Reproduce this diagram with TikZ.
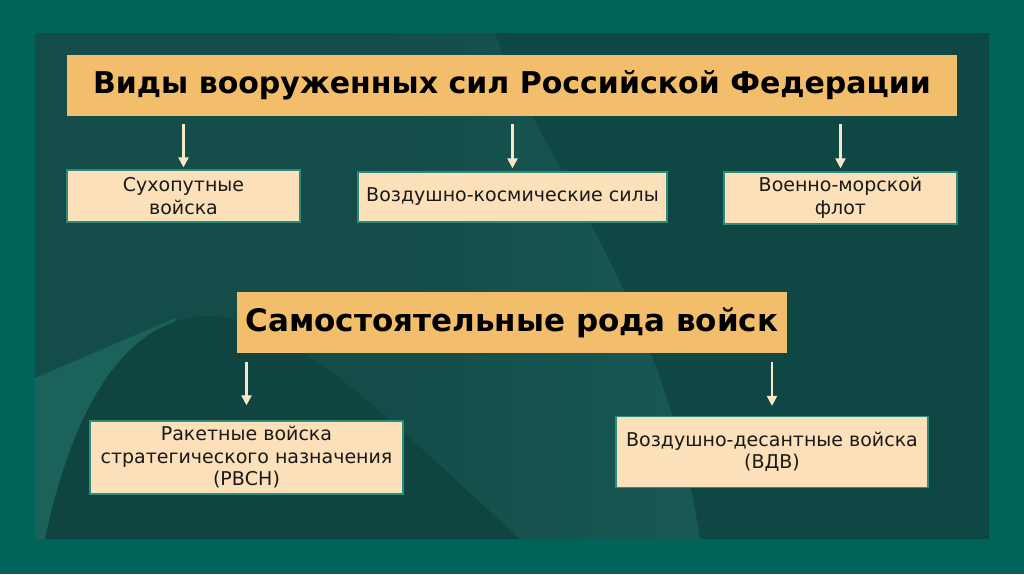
\documentclass[tikz,border=0pt]{standalone}
\usepackage{fontspec}
\setmainfont{DejaVu Sans}
\usetikzlibrary{arrows.meta}
\definecolor{frame}{HTML}{00645A}
\definecolor{inner}{HTML}{144C49}
\definecolor{innerdark}{HTML}{0F4744}
\definecolor{innerlight}{HTML}{185955}
\definecolor{lowlight}{HTML}{1B625B}
\definecolor{hill}{HTML}{0F4441}
\definecolor{titlefill}{HTML}{F2BE6C}
\definecolor{boxfill}{HTML}{FBE0B9}
\definecolor{boxline}{HTML}{2E8B78}
\definecolor{arrowcol}{HTML}{F6E7C9}
\begin{document}
\begin{tikzpicture}[x=1pt,y=-1pt,
  titlebox/.style={fill=titlefill, draw=none, inner sep=0pt, align=center,
    font=\fontsize{31}{36}\selectfont\bfseries, text=black},
  itembox/.style={fill=boxfill, draw=boxline, line width=1.3pt, inner sep=0pt, align=center,
    font=\fontsize{19}{22.5}\selectfont, text=black!90},
  conn/.style={draw=arrowcol, line width=2.2pt, -{Triangle[width=10pt,length=10pt]}}
]
\useasboundingbox (0,0) rectangle (1024,574);
% background
\fill[frame] (0,0) rectangle (1024,574);
\fill[inner] (35,33) rectangle (989,539);
% lighter swoosh band, fading to the left
\begin{scope}
  \clip (380,33) -- (495,33) .. controls (545,170) and (665,300) .. (700,539) -- (380,539) -- cycle;
  \shade[left color=inner, right color=innerlight] (380,33) rectangle (700,539);
\end{scope}
% darker right region
\fill[innerdark] (495,33) .. controls (545,170) and (665,300) .. (700,539) -- (989,539) -- (989,33) -- cycle;
% lower left light region
\fill[lowlight] (35,378) -- (175,318) -- (175,539) -- (35,539) -- cycle;
% dark hill
\fill[hill] (45,539) .. controls (70,420) and (120,316) .. (210,316) .. controls (290,316) and (400,430) .. (520,539) -- cycle;

% title boxes
\node[titlebox, minimum width=890pt, minimum height=61pt, font=\fontsize{30}{36}\selectfont\bfseries] (t1) at (512,85.5) {Виды вооруженных сил Российской Федерации};
\node[titlebox, minimum width=550pt, minimum height=61pt] (t2) at (512,322.5) {Самостоятельные рода войск};

% item boxes
\node[itembox, minimum width=233pt, minimum height=52pt] (b1) at (183.5,196) {Сухопутные\\войска};
\node[itembox, minimum width=309pt, minimum height=50pt] (b2) at (512.5,197) {Воздушно-космические силы};
\node[itembox, minimum width=233pt, minimum height=52pt] (b3) at (840.5,198) {Военно-морской\\флот};
\node[itembox, minimum width=313pt, minimum height=73pt] (b4) at (246.5,457.5) {Ракетные войска\\стратегического назначения\\(РВСН)};
\node[itembox, minimum width=312pt, minimum height=71pt] (b5) at (772,452) {Воздушно-десантные войска\\(ВДВ)};

% connectors
\draw[conn, shorten <=8pt, shorten >=2pt] (b1.north |- t1.south) -- (b1.north);
\draw[conn, shorten <=8pt, shorten >=3pt] (b2.north |- t1.south) -- (b2.north);
\draw[conn, shorten <=8pt, shorten >=3pt] (b3.north |- t1.south) -- (b3.north);
\draw[conn, shorten <=9pt, shorten >=15pt] (b4.north |- t2.south) -- (b4.north);
\draw[conn, shorten <=9pt, shorten >=10pt] (b5.north |- t2.south) -- (b5.north);
\end{tikzpicture}
\end{document}
